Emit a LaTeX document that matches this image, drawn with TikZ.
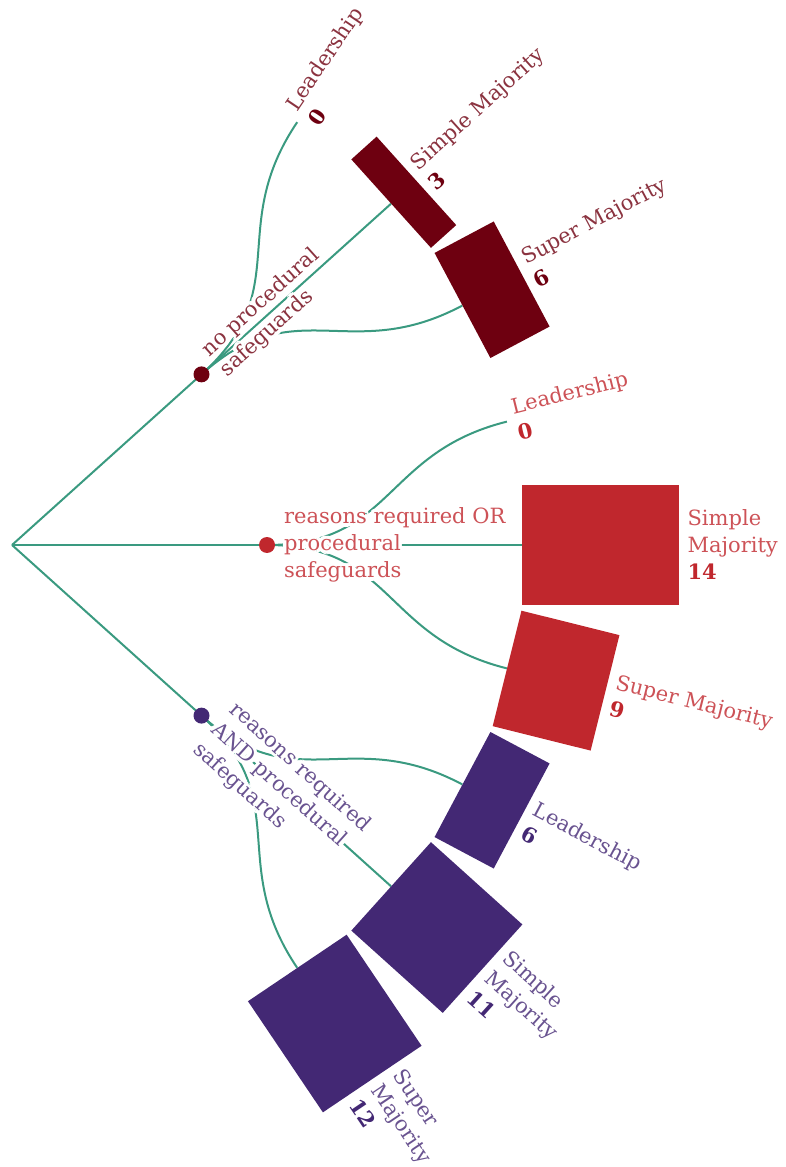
\documentclass[tikz,border=0pt]{standalone}
\usepackage{fontspec}
\setmainfont{DejaVu Serif}
\usetikzlibrary{positioning, calc, backgrounds}
\definecolor{linkteal}{RGB}{58, 154, 128}
\definecolor{noproc}{RGB}{110, 0, 16}
\definecolor{orproc}{RGB}{192, 39, 45}
\definecolor{andproc}{RGB}{67, 40, 116}

\newcommand{\numcol}{black}
\newcommand{\val}[1]{{\color{\numcol}\textbf{#1}}}

\tikzset{
  link/.style={draw=linkteal, line width=2pt},
  branchdot/.style={circle, fill=#1, inner sep=0pt, minimum size=16pt},
  bar/.style={fill=#1, inner sep=0pt, minimum height=119pt, anchor=west},
  lbl/.style={text=#1!80, align=left, anchor=west, inner sep=0pt,
    font=\fontsize{21}{27}\selectfont,
    execute at begin node={\renewcommand{\numcol}{#1}}},
}

% label with a white halo round the letters
\newcommand{\halonode}[4]{%
  \foreach \ha in {0, 30, ..., 330}
    \node[#2, text=white, shift={(\ha:3.5)},
      execute at begin node={\renewcommand{\numcol}{white}}] at #3 {#4};
  \node[#2] (#1) at #3 {#4};
}

\begin{document}
\begin{tikzpicture}[x=1pt, y=1pt]
  \useasboundingbox (-12, -622) rectangle (773, 545);
  \coordinate (root) at (0, 0);

  % branches
  \node[branchdot=noproc] (pnone) at (42:255) {};
  \node[branchdot=orproc] (por) at (0:255) {};
  \node[branchdot=andproc] (pand) at (-42:255) {};

  % no procedural safeguards
  \coordinate (nlead) at (56:510);
  \node[bar=noproc, minimum width=34pt, rotate=42] (nsimple) at (42:510) {};
  \node[bar=noproc, minimum width=67pt, rotate=28] (nsuper) at (28:510) {};

  % reasons required OR procedural safeguards
  \coordinate (olead) at (14:510);
  \node[bar=orproc, minimum width=157pt] (osimple) at (0:510) {};
  \node[bar=orproc, minimum width=101pt, rotate=-14] (osuper) at (-14:510) {};

  % reasons required AND procedural safeguards
  \node[bar=andproc, minimum width=67pt, rotate=-28] (alead) at (-28:510) {};
  \node[bar=andproc, minimum width=123pt, rotate=-42] (asimple) at (-42:510) {};
  \node[bar=andproc, minimum width=134pt, rotate=-56] (asuper) at (-56:510) {};

  \begin{scope}[on background layer]
    \draw[link] (root) -- (pnone.center);
    \draw[link] (root) -- (por.center);
    \draw[link] (root) -- (pand.center);
    \draw[link] (pnone.center) .. controls (42:382) and (56:382) .. (nlead);
    \draw[link] (pnone.center) -- (nsimple.west);
    \draw[link] (pnone.center) .. controls (42:382) and (28:382) .. (nsuper.west);
    \draw[link] (por.center) .. controls (0:382) and (14:382) .. (olead);
    \draw[link] (por.center) -- (osimple.west);
    \draw[link] (por.center) .. controls (0:382) and (-14:382) .. (osuper.west);
    \draw[link] (pand.center) .. controls (-42:382) and (-28:382) .. (alead.west);
    \draw[link] (pand.center) -- (asimple.west);
    \draw[link] (pand.center) .. controls (-42:382) and (-56:382) .. (asuper.west);
  \end{scope}

  % branch labels
  \halonode{lnone}{lbl=noproc, rotate=42}{(42:272)}{no procedural\\safeguards}
  \halonode{lor}{lbl=orproc}{(0:272)}{reasons required OR\\procedural\\safeguards}
  \halonode{land}{lbl=andproc, rotate=-42}{(-42:272)}{reasons required\\AND procedural\\safeguards}

  % leaf labels
  \halonode{tnlead}{lbl=noproc, rotate=56}{(56:518)}{Leadership\\\val{0}}
  \halonode{tnsimple}{lbl=noproc, rotate=42}{($(nsimple.east)+(42:8)$)}{Simple Majority\\\val{3}}
  \halonode{tnsuper}{lbl=noproc, rotate=28}{($(nsuper.east)+(28:8)$)}{Super Majority\\\val{6}}
  \halonode{tolead}{lbl=orproc, rotate=14}{(14:518)}{Leadership\\\val{0}}
  \halonode{tosimple}{lbl=orproc}{($(osimple.east)+(0:8)$)}{Simple\\Majority\\\val{14}}
  \halonode{tosuper}{lbl=orproc, rotate=-14}{($(osuper.east)+(-14:8)$)}{Super Majority\\\val{9}}
  \halonode{talead}{lbl=andproc, rotate=-28}{($(alead.east)+(-28:8)$)}{Leadership\\\val{6}}
  \halonode{tasimple}{lbl=andproc, rotate=-42}{($(asimple.east)+(-42:8)$)}{Simple\\Majority\\\val{11}}
  \halonode{tasuper}{lbl=andproc, rotate=-56}{($(asuper.east)+(-56:8)$)}{Super\\Majority\\\val{12}}
\end{tikzpicture}
\end{document}
